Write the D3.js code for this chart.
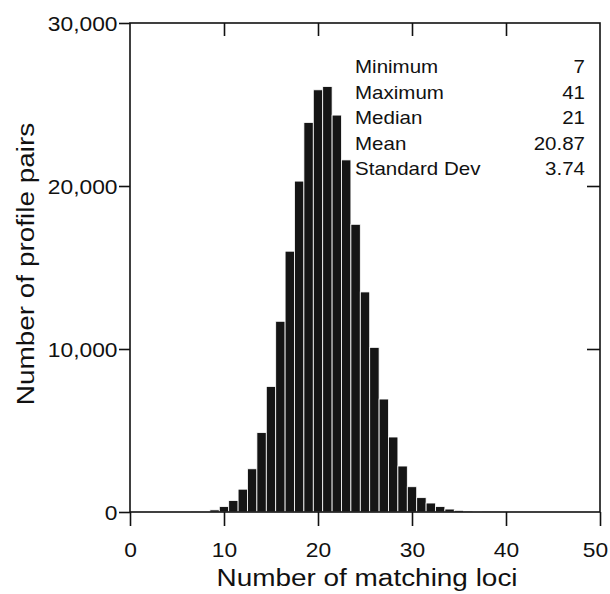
<!DOCTYPE html>
<html>
<head>
<meta charset="utf-8">
<script src="https://cdn.jsdelivr.net/npm/d3@7"></script>
<style>
  html, body { margin: 0; padding: 0; background: #fff; }
  svg { display: block; font-family: "Liberation Sans", Arial, sans-serif; }
</style>
</head>
<body>
<div id="chart"></div>
<script>
// Histogram: number of matching loci per profile pair
const loci = [7, 8, 9, 10, 11, 12, 13, 14, 15, 16, 17, 18, 19, 20, 21, 22, 23, 24,
  25, 26, 27, 28, 29, 30, 31, 32, 33, 34, 35, 36, 37, 38, 39, 40, 41];
const pairCounts = [10, 50, 130, 330, 700, 1400, 2650, 4870, 7700, 11700, 16000, 20300,
  23900, 25900, 26100, 24350, 21600, 17650, 13500, 10100, 6930, 4600, 2820, 1550,
  880, 550, 330, 180, 100, 60, 30, 15, 8, 4, 2];

const xTicks = [0, 10, 20, 30, 40, 50];
const yTicks = [0, 10000, 20000, 30000];

const statLabels = ['Minimum', 'Maximum', 'Median', 'Mean', 'Standard Dev'];
const statValues = ['7', '41', '21', '20.87', '3.74'];

const xTitle = 'Number of matching loci';
const yTitle = 'Number of profile pairs';

// the scanned figure's type is a bit wider than regular Arial
const stretch = 1.14;

const width = 610, height = 594;
const plot = { left: 130, right: 600, top: 23, bottom: 512 };

const svg = d3.select('#chart').append('svg')
    .attr('width', width)
    .attr('height', height);

const x = d3.scaleLinear().domain([0, 50]).range([plot.left, plot.right]);
const y = d3.scaleLinear().domain([0, 30000]).range([plot.bottom, plot.top]);

const data = loci.map((d, i) => ({ locus: d, count: pairCounts[i] }));

// bars
svg.append('g')
  .selectAll('rect')
  .data(data)
  .join('rect')
    .attr('x', d => x(d.locus - 0.5))
    .attr('width', d => x(d.locus + 0.5) - x(d.locus - 0.5))
    .attr('y', d => y(d.count))
    .attr('height', d => y(0) - y(d.count))
    .attr('fill', '#151515')
    .attr('stroke', '#fff')
    .attr('stroke-width', 0.8);

// frame
svg.append('rect')
    .attr('x', plot.left)
    .attr('y', plot.top)
    .attr('width', plot.right - plot.left)
    .attr('height', plot.bottom - plot.top)
    .attr('fill', 'none')
    .attr('stroke', '#111')
    .attr('stroke-width', 1.6);

function styleAxis(g) {
  g.select('.domain').remove();
  g.selectAll('line').attr('stroke', '#111').attr('stroke-width', 1.6);
  g.selectAll('text')
    .attr('fill', '#111')
    .style('font-size', '20px')
    .style('font-family', '"Liberation Sans", Arial, sans-serif');
}

// left axis with labels
const yAxisG = svg.append('g')
    .attr('transform', `translate(${plot.left},0)`)
    .call(d3.axisLeft(y).tickValues(yTicks).tickSize(11).tickFormat(d3.format(',')))
    .call(styleAxis);
yAxisG.selectAll('text')
    .attr('x', -12.5 / stretch)
    .attr('dy', '0.35em')
    .attr('transform', `scale(${stretch},1)`);

// bottom axis with labels
const xAxisG = svg.append('g')
    .attr('transform', `translate(0,${plot.bottom})`)
    .call(d3.axisBottom(x).tickValues(xTicks).tickSize(14))
    .call(styleAxis);
xAxisG.selectAll('text')
    .attr('y', 45)
    .attr('dy', 0)
    .attr('x', d => (d === 50 ? -5 : 0) / stretch)
    .attr('transform', `scale(${stretch},1)`);

// top and right axes, ticks only, pointing inward
svg.append('g')
    .attr('transform', `translate(0,${plot.top})`)
    .call(d3.axisBottom(x).tickValues(xTicks.slice(1, -1)).tickSize(13).tickFormat(''))
    .call(styleAxis);

svg.append('g')
    .attr('transform', `translate(${plot.right},0)`)
    .call(d3.axisLeft(y).tickValues(yTicks.slice(1, -1)).tickSize(13).tickFormat(''))
    .call(styleAxis);

// helper for horizontally stretched text
function stretchedText(parent, tx, ty, str, size, anchor) {
  return parent.append('g')
      .attr('transform', `translate(${tx},${ty}) scale(${stretch},1)`)
    .append('text')
      .attr('text-anchor', anchor)
      .attr('fill', '#111')
      .style('font-size', size + 'px')
      .text(str);
}

// summary statistics
const stats = svg.append('g');
statLabels.forEach((lab, i) => {
  const by = 73 + i * 25.5;
  stretchedText(stats, 355, by, lab, 18, 'start');
  stretchedText(stats, 585, by, statValues[i], 18, 'end');
});

// axis titles
stretchedText(svg, 367, 586, xTitle, 24.5, 'middle');

svg.append('g')
    .attr('transform', `translate(34,264) rotate(-90) scale(${stretch},1)`)
  .append('text')
    .attr('text-anchor', 'middle')
    .attr('fill', '#111')
    .style('font-size', '24.5px')
    .text(yTitle);
</script>
</body>
</html>
